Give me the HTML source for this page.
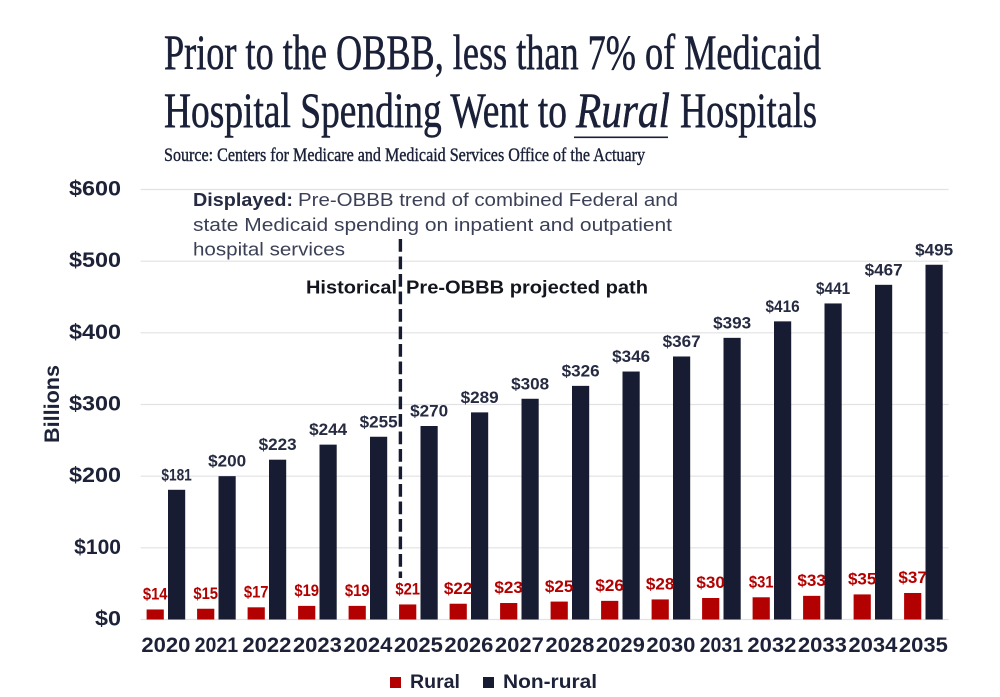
<!DOCTYPE html>
<html lang="en">
<head>
<meta charset="utf-8">
<title>Medicaid Hospital Spending</title>
<style>
html,body{margin:0;padding:0;background:#fff;}
svg{display:block;}
.t{font-family:"Liberation Serif",serif;fill:#1a2038;stroke:#1a2038;stroke-width:0.55;}
.s{font-family:"Liberation Sans",sans-serif;}
.b{font-weight:700;}
</style>
</head>
<body>
<svg id="chart" xmlns="http://www.w3.org/2000/svg" width="1000" height="697" viewBox="0 0 1000 697">
  <rect x="0" y="0" width="1000" height="697" fill="#ffffff"/>
  <text class="t" x="164" y="69" font-size="49.5" textLength="657" lengthAdjust="spacingAndGlyphs">Prior to the OBBB, less than 7% of Medicaid</text>
  <text class="t" x="164" y="127" font-size="49.5" textLength="403" lengthAdjust="spacingAndGlyphs">Hospital Spending Went to</text>
  <text class="t" x="576" y="127" font-size="49.5" font-style="italic" textLength="94" lengthAdjust="spacingAndGlyphs">Rural</text>
  <text class="t" x="680" y="127" font-size="49.5" textLength="137" lengthAdjust="spacingAndGlyphs">Hospitals</text>
  <rect x="574" y="136.5" width="94" height="1.6" fill="#1a2038"/>
  <text class="t" x="164" y="161" font-size="19" style="stroke-width:0.4" textLength="481" lengthAdjust="spacingAndGlyphs">Source: Centers for Medicare and Medicaid Services Office of the Actuary</text>

  <g id="grid"></g>
  <g id="yticks"></g>
  <text class="s b" transform="translate(59,404) rotate(-90)" text-anchor="middle" font-size="21.5" fill="#1e2238" textLength="78" lengthAdjust="spacingAndGlyphs">Billions</text>

  <g id="bars"></g>
  <g id="values"></g>
  <g id="xticks"></g>

  <line x1="400.4" y1="239" x2="400.4" y2="578" stroke="#171c33" stroke-width="3.4" stroke-dasharray="12.7 4.8"/>

  <text class="s b" x="193" y="206" font-size="18.5" fill="#262b42" textLength="100" lengthAdjust="spacingAndGlyphs">Displayed:</text>
  <text class="s" x="298" y="206" font-size="18.5" fill="#3b4056" textLength="380" lengthAdjust="spacingAndGlyphs">Pre-OBBB trend of combined Federal and</text>
  <text class="s" x="193" y="231" font-size="18.5" fill="#3b4056" textLength="479" lengthAdjust="spacingAndGlyphs">state Medicaid spending on inpatient and outpatient</text>
  <text class="s" x="193" y="255.5" font-size="18.5" fill="#3b4056" textLength="152" lengthAdjust="spacingAndGlyphs">hospital services</text>

  <text class="s b" x="306" y="293.5" font-size="18" fill="#14161f" textLength="91" lengthAdjust="spacingAndGlyphs">Historical</text>
  <text class="s b" x="406" y="293.5" font-size="18" fill="#14161f" textLength="242" lengthAdjust="spacingAndGlyphs">Pre-OBBB projected path</text>

  <g>
    <rect x="390" y="677" width="11" height="11" fill="#b30000"/>
    <text class="s b" x="410" y="688" font-size="19.5" fill="#1e2238" textLength="50" lengthAdjust="spacingAndGlyphs">Rural</text>
    <rect x="483" y="677" width="11" height="11" fill="#171c33"/>
    <text class="s b" x="503" y="688" font-size="19.5" fill="#1e2238" textLength="94" lengthAdjust="spacingAndGlyphs">Non-rural</text>
  </g>
</svg>
<script>
var years = ['2020','2021','2022','2023','2024','2025','2026','2027','2028','2029','2030','2031','2032','2033','2034','2035'];
var ruralValues = [14,15,17,19,19,21,22,23,25,26,28,30,31,33,35,37];
var nonRuralValues = [181,200,223,244,255,270,289,308,326,346,367,393,416,441,467,495];
var yTickValues = [0,100,200,300,400,500,600];

var NS = 'http://www.w3.org/2000/svg';
var plotLeft = 140.6, plotRight = 948.6, plotTop = 189.5, plotBottom = 619.5, yMax = 600;
var bandWidth = (plotRight - plotLeft) / years.length;
var barWidth = 17.2;

function yScale(v) { return plotBottom - (v / yMax) * (plotBottom - plotTop); }
function bandLeft(i) { return plotLeft + i * bandWidth; }
function ruralX(i) { return bandLeft(i) + 6; }
function nonRuralX(i) { return bandLeft(i) + 27.4; }
function textWidth(str, unit, oneFactor) {
  var w = 0;
  for (var k = 0; k < str.length; k++) { w += str.charAt(k) === '1' ? unit * oneFactor : unit; }
  return w;
}
function makeText(parent, str, x, y, size, fill, anchor, width) {
  var t = document.createElementNS(NS, 'text');
  t.setAttribute('class', 's b');
  t.setAttribute('x', x);
  t.setAttribute('y', y);
  t.setAttribute('font-size', size);
  t.setAttribute('fill', fill);
  t.setAttribute('text-anchor', anchor);
  t.setAttribute('textLength', width);
  t.setAttribute('lengthAdjust', 'spacingAndGlyphs');
  t.textContent = str;
  parent.appendChild(t);
  return t;
}
function makeBar(parent, x, value, fill) {
  var r = document.createElementNS(NS, 'rect');
  r.setAttribute('x', x);
  r.setAttribute('y', yScale(value));
  r.setAttribute('width', barWidth);
  r.setAttribute('height', plotBottom - yScale(value));
  r.setAttribute('fill', fill);
  parent.appendChild(r);
  return r;
}

var gridG = document.getElementById('grid');
var yG = document.getElementById('yticks');
yTickValues.forEach(function (v) {
  var l = document.createElementNS(NS, 'line');
  l.setAttribute('x1', plotLeft);
  l.setAttribute('x2', plotRight);
  l.setAttribute('y1', yScale(v));
  l.setAttribute('y2', yScale(v));
  l.setAttribute('stroke', '#e2e2e5');
  l.setAttribute('stroke-width', '1.2');
  
  
  gridG.appendChild(l);
  var label = '$' + v;
  var t = makeText(yG, label, 121, yScale(v) + 6, 21, '#1e2238', 'end', textWidth(label, 13, 0.6));
  
  
});

var barsG = document.getElementById('bars');
var valuesG = document.getElementById('values');
var xG = document.getElementById('xticks');
years.forEach(function (year, i) {
  var rb = makeBar(barsG, ruralX(i), ruralValues[i], '#b30000');
  
  
  var nb = makeBar(barsG, nonRuralX(i), nonRuralValues[i], '#171c33');
  
  

  var rLabel = '$' + ruralValues[i];
  var rt = makeText(valuesG, rLabel, ruralX(i) + barWidth / 2, yScale(ruralValues[i]) - 9.8, 17, '#b30000', 'middle', textWidth(rLabel, 9.5, 0.6));
  
  

  var nLabel = '$' + nonRuralValues[i];
  var nt = makeText(valuesG, nLabel, nonRuralX(i) + barWidth / 2, yScale(nonRuralValues[i]) - 9.5, 17, '#262b42', 'middle', textWidth(nLabel, 9.5, 0.6));
  
  

  var yt = makeText(xG, year, bandLeft(i) + bandWidth / 2, 652, 21, '#1e2238', 'middle', textWidth(year, 12.25, 0.55));
  
  
});
</script>
</body>
</html>
